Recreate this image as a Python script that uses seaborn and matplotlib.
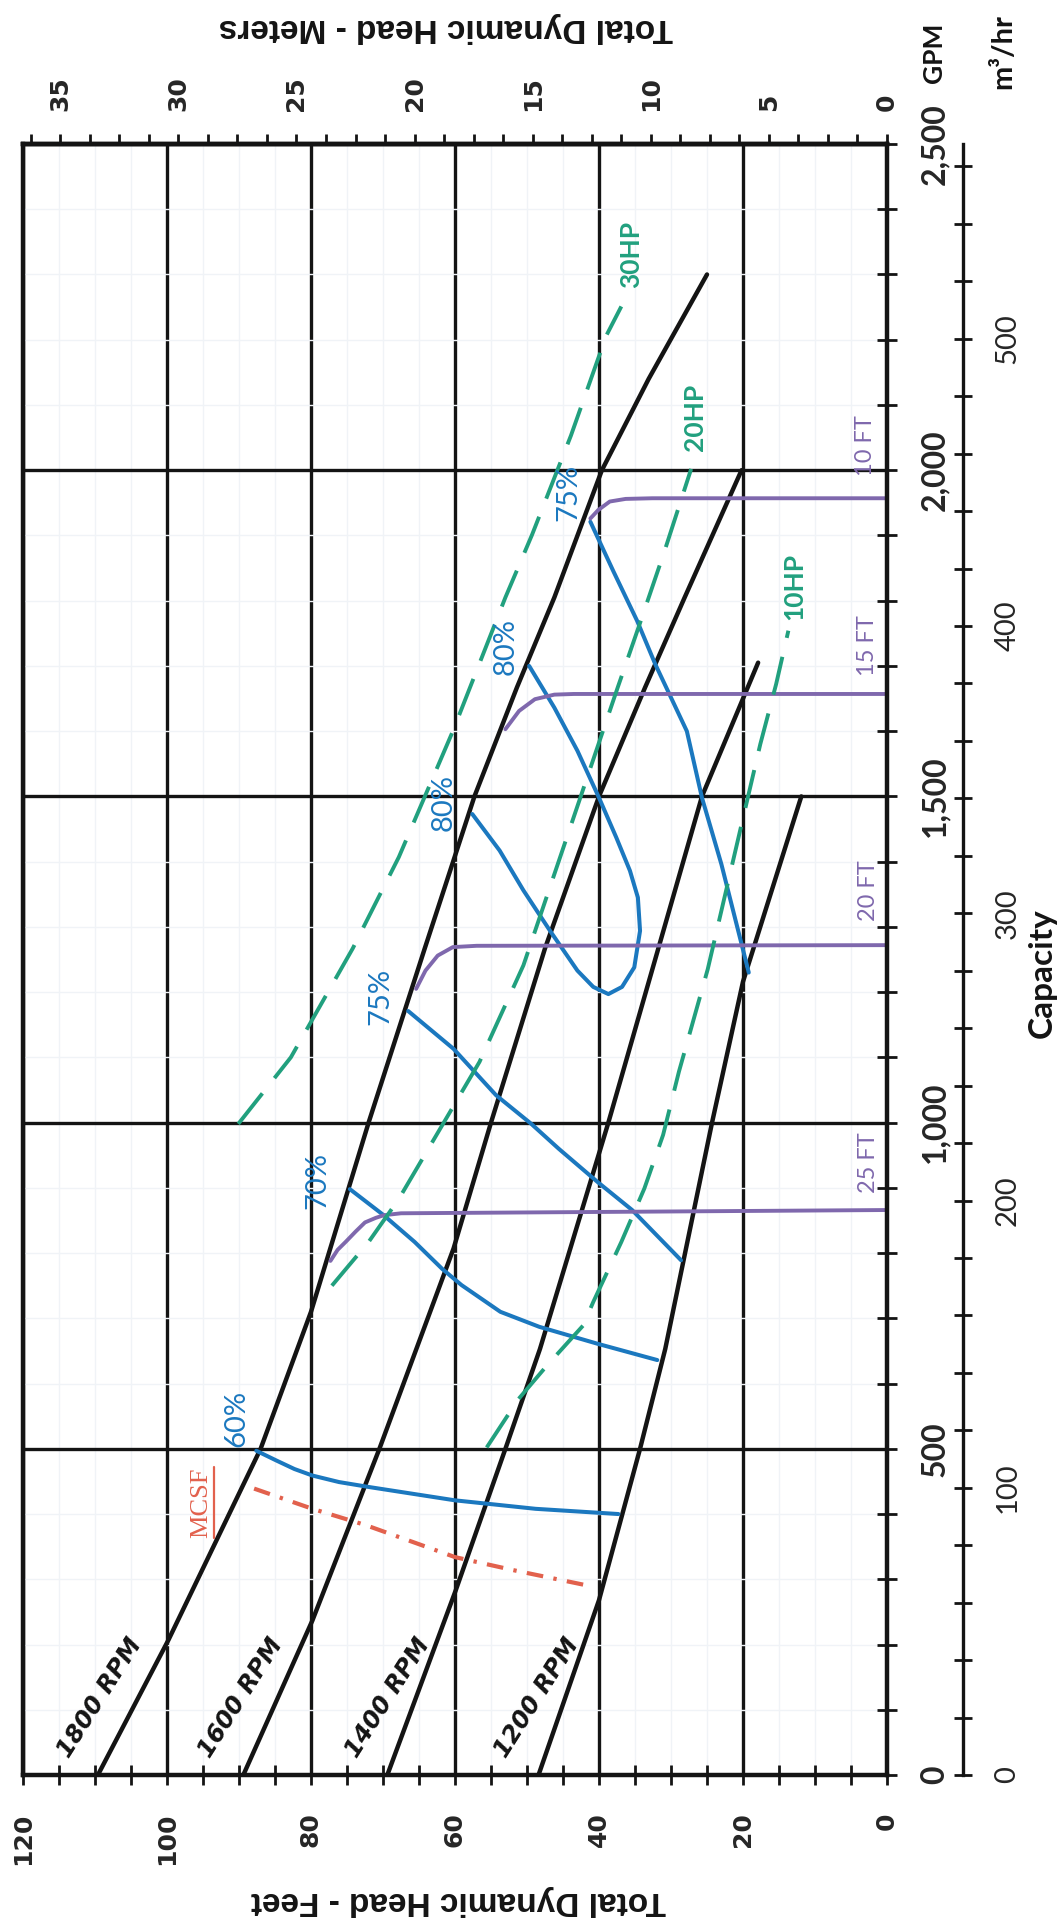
import matplotlib
matplotlib.use("Agg")
import matplotlib.pyplot as plt
import matplotlib.ticker as mticker
from matplotlib.lines import Line2D
from matplotlib.transforms import IdentityTransform
import pandas as pd
import seaborn as sns

# ---- values: head in feet, capacity in GPM ----
rpm1800_ft = [109.6, 99.8, 87, 80, 72, 64.2, 57.3, 51.4, 46.2, 39.6, 33.1, 25]
rpm1800_gpm = [0, 207, 500, 710, 1000, 1267, 1500, 1667, 1805, 2000, 2140, 2300]
rpm1600_ft = [89.4, 79.8, 70.5, 60.2, 55, 47.5, 40, 33.6, 28.1, 20.2]
rpm1600_gpm = [0, 237, 500, 807, 1000, 1267, 1500, 1667, 1805, 2000]
rpm1400_ft = [69.4, 59.9, 53, 48.2, 38.7, 25.7, 17.9]
rpm1400_gpm = [0, 283, 500, 653, 1000, 1500, 1705]
rpm1200_ft = [48.4, 40, 34.3, 30.8, 24.3, 20, 11.9]
rpm1200_gpm = [0, 268, 500, 653, 1000, 1216, 1500]

eff60_ft = [87.6, 84.8, 82.3, 79.8, 76.1, 71.7, 60, 48.8, 37.3]
eff60_gpm = [497, 482, 469, 459, 449, 441, 421, 408, 400]
eff70_ft = [74.6, 69.9, 65.6, 61.8, 59.1, 53.7, 48.3, 40.2, 31.9]
eff70_gpm = [898, 858, 817, 776, 751, 710, 687, 661, 636]
eff75a_ft = [66.5, 60.2, 54.3, 49.4, 45.6, 40.2, 35.4, 28.6]
eff75a_gpm = [1171, 1113, 1042, 998, 960, 909, 866, 789]
eff80_ft = [57.6, 53.8, 50.5, 46.8, 43.0, 40.8, 38.7, 36.8, 35.1, 34.3, 34.6, 35.7,
            37.6, 40.0, 43.0, 46.2, 49.7]
eff80_gpm = [1473, 1417, 1356, 1294, 1233, 1208, 1197, 1208, 1238, 1294, 1345, 1386,
             1437, 1498, 1570, 1636, 1700]
eff75b_ft = [41.2, 38, 34.7, 32.2, 27.8, 25.7, 23, 19.2]
eff75b_gpm = [1921, 1845, 1769, 1703, 1600, 1498, 1396, 1230]

sub10_ft = [41.2, 40.1, 38.5, 36.3, 32.6, 0]
sub10_gpm = [1926, 1939, 1952, 1956, 1957, 1957]
sub15_ft = [53.0, 51.1, 48.9, 46.2, 43.5, 0]
sub15_gpm = [1603, 1631, 1649, 1656, 1657, 1657]
sub20_ft = [65.4, 64.1, 62.4, 60.3, 57, 0]
sub20_gpm = [1205, 1233, 1256, 1269, 1271, 1272]
sub25_ft = [77.3, 76.3, 75.2, 73.8, 72.5, 71, 69.9, 67.5, 0]
sub25_gpm = [788, 805, 817, 833, 847, 854, 858, 861, 866]

hp30_ft = [90.1, 82.8, 74.2, 67.8, 60.3, 53, 49.3, 43.9, 39, 36.9]
hp30_gpm = [998, 1100, 1267, 1407, 1600, 1805, 1901, 2053, 2206, 2251]
hp20_ft = [77.1, 72, 67.8, 56.6, 50.5, 37.4, 34.2, 30.9, 27.2]
hp20_gpm = [750, 817, 883, 1093, 1241, 1667, 1769, 1876, 2002]
hp10_ft = [55.6, 51.2, 47.2, 42.2, 40.8, 36.9, 33.7, 31.1, 28.9, 24.9, 17.6, 15.4, 13.7]
hp10_gpm = [502, 576, 628, 689, 725, 817, 899, 981, 1078, 1235, 1580, 1672, 1754]

mcsf_ft = [87.9, 79.8, 72.4, 60, 51.9, 41.4]
mcsf_gpm = [439, 408, 383, 334, 314, 290]

# axis ticks
feet_ticks = [0, 20, 40, 60, 80, 100, 120]
feet_labels = ["0", "20", "40", "60", "80", "100", "120"]
meter_ticks = [0, 5, 10, 15, 20, 25, 30, 35]
meter_labels = ["0", "5", "10", "15", "20", "25", "30", "35"]
gpm_ticks = [0, 500, 1000, 1500, 2000, 2500]
gpm_labels = ["0", "500", "1,000", "1,500", "2,000", "2,500"]
m3hr_ticks = [0, 100, 200, 300, 400, 500]
m3hr_labels = ["0", "100", "200", "300", "400", "500"]

FT_PER_M = 3.28084
GPM_PER_M3HR = 4.40287

INK = "#141414"
BLUE = "#1b78bf"
PURPLE = "#7f68ad"
GREEN = "#21a07e"
RED = "#e2614d"

sns.set_theme(style="white")
plt.rcParams["font.family"] = ["Lato", "DejaVu Sans"]

fig = plt.figure(figsize=(10.64, 19.19), dpi=100)
ax = fig.add_axes([23 / 1064, 1 - 1775 / 1919, 864 / 1064, 1631 / 1919])


def draw(ft, gpm, **kw):
    df = pd.DataFrame({"head_ft": ft, "gpm": gpm})
    sns.lineplot(data=df, x="head_ft", y="gpm", sort=False, estimator=None, ax=ax, **kw)


for ft, gpm in [(rpm1800_ft, rpm1800_gpm), (rpm1600_ft, rpm1600_gpm),
                (rpm1400_ft, rpm1400_gpm), (rpm1200_ft, rpm1200_gpm)]:
    draw(ft, gpm, color=INK, lw=3.2, solid_capstyle="round")

for ft, gpm in [(eff60_ft, eff60_gpm), (eff70_ft, eff70_gpm), (eff75a_ft, eff75a_gpm),
                (eff80_ft, eff80_gpm), (eff75b_ft, eff75b_gpm)]:
    draw(ft, gpm, color=BLUE, lw=2.9, solid_capstyle="round")

for ft, gpm in [(sub10_ft, sub10_gpm), (sub15_ft, sub15_gpm),
                (sub20_ft, sub20_gpm), (sub25_ft, sub25_gpm)]:
    draw(ft, gpm, color=PURPLE, lw=2.8, solid_capstyle="round")

for ft, gpm in [(hp30_ft, hp30_gpm), (hp20_ft, hp20_gpm), (hp10_ft, hp10_gpm)]:
    draw(ft, gpm, color=GREEN, lw=2.8, linestyle=(0, (10, 5)))

draw(mcsf_ft, mcsf_gpm, color=RED, lw=3.0, linestyle=(0, (4, 2.5, 0.8, 2.5)))

ax.set_xlabel("")
ax.set_ylabel("")
ax.set_xlim(120, 0)
ax.set_ylim(0, 2500)

# twin scales: meters on top, m3/hr on an offset right axis
axm = ax.twiny()
axq = ax.twinx()

# main axes: feet (bottom) and GPM (right)
ax.yaxis.tick_right()
ax.xaxis.tick_bottom()
ax.xaxis.set_minor_locator(mticker.MultipleLocator(5))
ax.yaxis.set_minor_locator(mticker.MultipleLocator(100))
ax.set_xticks(feet_ticks, labels=feet_labels)
ax.set_yticks(gpm_ticks, labels=gpm_labels)
ax.set_axisbelow(True)
ax.grid(which="major", color=INK, lw=2.4)
ax.grid(which="minor", color="#f0f3f7", lw=1.0)
for s in ax.spines.values():
    s.set_visible(True)
    s.set_color(INK)
    s.set_linewidth(3.2)

ax.tick_params(axis="x", which="both", direction="inout", length=14, width=2,
               color=INK, bottom=True, top=False, labelbottom=True, labeltop=False,
               pad=20, labelrotation=90)
ax.tick_params(axis="y", which="both", direction="inout", length=14, width=2,
               color=INK, right=True, left=False, labelright=True, labelleft=False,
               pad=17, labelrotation=90)
for lab in ax.get_xticklabels():
    lab.set_fontfamily("DejaVu Sans")
    lab.set_fontweight("bold")
    lab.set_fontsize(18)
    lab.set_va("top")
for lab in ax.get_yticklabels():
    lab.set_fontweight("bold")
    lab.set_fontsize(23)
    lab.set_va("center")

# meters axis on top
axm.set_xlim(120 / FT_PER_M, 0)
axm.set_xticks(meter_ticks, labels=meter_labels)
axm.xaxis.set_minor_locator(mticker.MultipleLocator(1.25))
axm.tick_params(axis="x", which="both", direction="out", length=7, width=2,
                color=INK, top=True, bottom=False, pad=17, labelrotation=90)
for lab in axm.get_xticklabels():
    lab.set_fontfamily("DejaVu Sans")
    lab.set_fontweight("bold")
    lab.set_fontsize(18)
    lab.set_va("bottom")
for s in ["left", "right", "bottom"]:
    axm.spines[s].set_visible(False)
axm.spines["top"].set_linewidth(3.2)
axm.spines["top"].set_color(INK)
axm.grid(False)

# m3/hr axis offset to the right
axq.set_ylim(0, 2500 / GPM_PER_M3HR)
axq.set_yticks(m3hr_ticks, labels=m3hr_labels)
axq.yaxis.set_minor_locator(mticker.MultipleLocator(20))
axq.spines["right"].set_position(("outward", 54.7))
for s in ["left", "top", "bottom"]:
    axq.spines[s].set_visible(False)
axq.spines["right"].set_visible(True)
axq.spines["right"].set_linewidth(2.4)
axq.spines["right"].set_color(INK)
axq.tick_params(axis="y", which="both", direction="inout", length=12.5, width=2,
                color=INK, right=True, left=False, pad=16.5, labelrotation=90)
for lab in axq.get_yticklabels():
    lab.set_fontsize(21)
    lab.set_va("center")
axq.grid(False)

# curve labels
rpm_text = [("1800 RPM", 109.4, 119), ("1600 RPM", 89.8, 119),
            ("1400 RPM", 69.4, 119), ("1200 RPM", 48.6, 119)]
for txt, ft, gpm in rpm_text:
    ax.text(ft, gpm, txt, rotation=57.5, ha="center", va="center", fontsize=17.5,
            fontweight="bold", fontstyle="oblique", family="DejaVu Sans", color=INK)

eff_text = [("60%", 90.4, 546), ("70%", 79.1, 911), ("75%", 70.4, 1193),
            ("80%", 61.6, 1491), ("80%", 53.0, 1730), ("75%", 44.2, 1966)]
for txt, ft, gpm in eff_text:
    ax.text(ft, gpm, txt, rotation=90, ha="center", va="center", fontsize=21, color=BLUE)

sub_text = [("10 FT", 3.0, 2037), ("15 FT", 2.7, 1731), ("20 FT", 2.5, 1355), ("25 FT", 2.6, 939)]
for txt, ft, gpm in sub_text:
    ax.text(ft, gpm, txt, rotation=90, ha="center", va="center", fontsize=17, color=PURPLE)

hp_text = [("30HP", 35.5, 2331), ("20HP", 26.6, 2081), ("10HP", 12.9, 1822)]
for txt, ft, gpm in hp_text:
    ax.text(ft, gpm, txt, rotation=90, ha="center", va="center", fontsize=19,
            fontweight="bold", color=GREEN)

mcsf = ax.text(95.3, 418, "MCSF", rotation=90, ha="center", va="center",
               fontsize=19, color=RED, family="Liberation Serif")

# axis titles
fig.text(446 / 1064, 1 - 27 / 1919, "Total Dynamic Head - Meters", rotation=180,
         ha="center", va="center", fontsize=24, fontweight="bold", family="Liberation Sans",
         color=INK)
fig.text(458 / 1064, 1 - 1900 / 1919, "Total Dynamic Head - Feet", rotation=180,
         ha="center", va="center", fontsize=24, fontweight="bold", family="Liberation Sans",
         color=INK)
fig.text(1042 / 1064, 1 - 973 / 1919, "Capacity", rotation=90, ha="center", va="center",
         fontsize=24, fontweight="bold", color=INK)
fig.text(934 / 1064, 1 - 53 / 1919, "GPM", rotation=90, ha="center", va="center",
         fontsize=19, fontweight="bold", color=INK)
fig.text(1003 / 1064, 1 - 52 / 1919, "m³/hr", rotation=90, ha="center", va="center",
         fontsize=21, fontweight="bold", color=INK)

# underline for the MCSF label, taken from its drawn extent
fig.canvas.draw()
bb = mcsf.get_window_extent()
fig.add_artist(Line2D([bb.x1 + 2, bb.x1 + 2], [bb.y0, bb.y1], color=RED, lw=1.6,
                      transform=IdentityTransform()))

fig.savefig("out.png", dpi=100, facecolor="white")
